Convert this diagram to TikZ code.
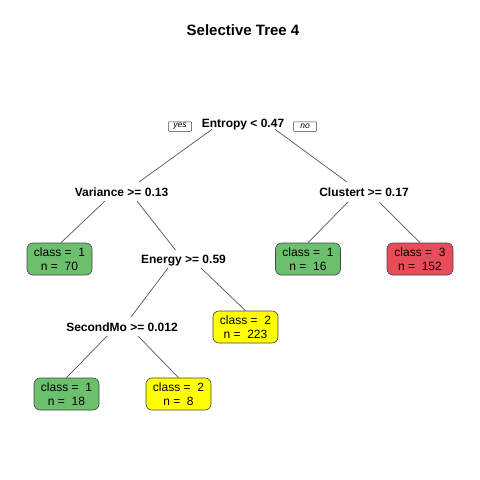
\documentclass[tikz,border=0pt]{standalone}
\usepackage{fontspec}
\setmainfont{Liberation Sans}
\definecolor{lgreen}{RGB}{108,191,108}
\definecolor{lred}{RGB}{232,76,88}
\definecolor{lyellow}{RGB}{255,255,0}
\definecolor{leafborder}{RGB}{70,70,70}
\definecolor{branch}{RGB}{85,85,85}
\begin{document}
\begin{tikzpicture}[x=1pt,y=-1pt,
  lab/.style={font=\bfseries\fontsize{12}{14}\selectfont, inner sep=0pt, anchor=base},
  leaf/.style={draw=leafborder, line width=0.6pt, rounded corners=6pt,
    minimum width=65pt, minimum height=32pt, inner sep=0pt, align=center,
    font=\fontsize{12}{14}\selectfont},
  yn/.style={draw=black!75, line width=0.5pt, font=\itshape\fontsize{8.5}{9}\selectfont,
    inner sep=0pt, rounded corners=0.8pt, minimum width=23pt, minimum height=9.5pt},
  br/.style={draw=branch, line width=0.7pt}]
\useasboundingbox (0,0) rectangle (480,480);
\fill[white] (0,0) rectangle (480,480);

\node[font=\bfseries\fontsize{15}{18}\selectfont] (title) at (243,30) {Selective Tree 4};

\node[lab] (root) at (243,127.8) {Entropy < 0.47};
\node[yn] (yes) at (180,126.5) {yes};
\node[yn] (no) at (305,126.5) {no};

\node[lab] (var) at (121.5,196.3) {Variance >= 0.13};
\node[lab] (clu) at (364,196.3) {Clustert >= 0.17};
\node[lab] (en) at (183.5,263.3) {Energy >= 0.59};
\node[lab] (sec) at (122,331.3) {SecondMo >= 0.012};

\node[leaf, fill=lgreen] (l70) at (59.5,259) {class = \ 1\\ n = \ 70};
\node[leaf, fill=lgreen] (l16) at (308,259) {class = \ 1\\ n = \ 16};
\node[leaf, fill=lred, minimum width=66pt] (l152) at (420,259) {class = \ 3\\ n = \ 152};
\node[leaf, fill=lyellow] (l223) at (245.5,327) {class = \ 2\\ n = \ 223};
\node[leaf, fill=lgreen] (l18) at (66.5,394) {class = \ 1\\ n = \ 18};
\node[leaf, fill=lyellow] (l8) at (178.5,394) {class = \ 2\\ n = \ 8};

\draw[br] ([xshift=-31pt,yshift=-1.5pt]root.base) -- ([xshift=17.5pt,yshift=14.3pt]var.base);
\draw[br] ([xshift=32pt,yshift=-1.5pt]root.base) -- ([xshift=-17pt,yshift=14.3pt]clu.base);
\draw[br] ([xshift=-16.5pt,yshift=-4.7pt]var.base) -- ([xshift=1.5pt]l70.north);
\draw[br] ([xshift=15.5pt,yshift=-4.7pt]var.base) -- ([xshift=-8pt,yshift=13.3pt]en.base);
\draw[br] ([xshift=-16pt,yshift=-5.7pt]clu.base) -- (l16.north);
\draw[br] ([xshift=15pt,yshift=-5.7pt]clu.base) -- (l152.north);
\draw[br] ([xshift=-15.5pt,yshift=-4.7pt]en.base) -- ([xshift=9pt,yshift=14.3pt]sec.base);
\draw[br] ([xshift=17.5pt,yshift=-4.7pt]en.base) -- (l223.north);
\draw[br] ([xshift=-15pt,yshift=-4.7pt]sec.base) -- (l18.north);
\draw[br] ([xshift=16pt,yshift=-4.7pt]sec.base) -- (l8.north);
\end{tikzpicture}
\end{document}
